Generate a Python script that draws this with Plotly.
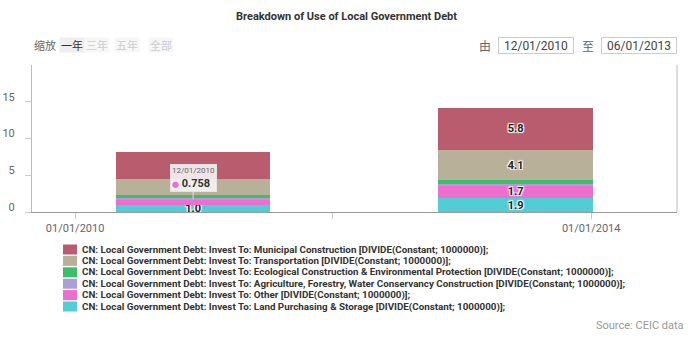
import plotly.graph_objects as go

# ---------------- data ----------------
dates = ["2010-12-01", "2013-06-01"]
series_names = [
    "CN: Local Government Debt: Invest To: Land Purchasing & Storage [DIVIDE(Constant; 1000000)];",
    "CN: Local Government Debt: Invest To: Other [DIVIDE(Constant; 1000000)];",
    "CN: Local Government Debt: Invest To: Agriculture, Forestry, Water Conservancy Construction [DIVIDE(Constant; 1000000)];",
    "CN: Local Government Debt: Invest To: Ecological Construction & Environmental Protection [DIVIDE(Constant; 1000000)];",
    "CN: Local Government Debt: Invest To: Transportation [DIVIDE(Constant; 1000000)];",
    "CN: Local Government Debt: Invest To: Municipal Construction [DIVIDE(Constant; 1000000)];",
]
land = [1.0, 1.9]
other = [0.758, 1.7]
agri = [0.15, 0.2]
eco = [0.35, 0.5]
transport = [2.3, 4.1]
municipal = [3.6, 5.8]
series_values = [land, other, agri, eco, transport, municipal]
# which segment labels are shown (chart hides some)
label_shown = [[True, True], [False, True], [False, False], [False, False], [False, True], [False, True]]
colors = ["#52CDD6", "#EE6ECF", "#AF9ED6", "#3DBE6B", "#B9B09A", "#B85C6E"]

x_tickvals = ["2010-01-01", "2012-01-01", "2014-01-01"]
x_ticktext = ["01/01/2010", "", "01/01/2014"]
y_tickvals = [0, 5, 10, 15]
title = "Breakdown of Use of Local Government Debt"
source = "Source: CEIC data"

# --------------- layout helpers -----------------
W, H = 693, 338
L, R, T, B = 32, 16, 65, 126
PW, PH = W - L - R, H - T - B


def px(x):
    return (x - L) / PW


def py(y):
    return (H - B - y) / PH


def fmt_date(d):
    y, m, dd = d.split("-")
    return f"{m}/{dd}/{y}"


SANS = "Roboto, Noto Sans CJK SC, sans-serif"
CJK = "Noto Sans CJK SC, Roboto, sans-serif"

bar_width_ms = 1.2 * 365.25 * 86400000

fig = go.Figure()
for name, vals, shown, col in zip(series_names, series_values, label_shown, colors):
    texts = [f"{v:.1f}" if s else "" for v, s in zip(vals, shown)]
    fig.add_trace(go.Bar(
        x=dates, y=vals, name=name, marker=dict(color=col, line=dict(width=0)),
        width=[bar_width_ms] * len(dates),
        text=texts, textposition="inside", insidetextanchor="middle", textangle=0,
        textfont=dict(family=SANS, size=11, color="#222", weight="bold",
                      shadow="1px 1px 1px #fff, -1px -1px 1px #fff, 1px -1px 1px #fff, -1px 1px 1px #fff"),
        cliponaxis=False, showlegend=False, hoverinfo="skip",
    ))

fig.update_layout(
    width=W, height=H, margin=dict(l=L, r=R, t=T, b=B),
    plot_bgcolor="white", paper_bgcolor="white", barmode="stack",
    uniformtext=dict(minsize=11, mode="show"),
    font=dict(family=SANS, color="#666"),
    xaxis=dict(type="date", range=["2009-09-01", "2014-09-01"], tickvals=x_tickvals,
               ticktext=x_ticktext, ticks="outside", ticklen=6, tickcolor="#ccc",
               showline=True, linecolor="#999", linewidth=1, showgrid=False, zeroline=False,
               automargin=False,
               tickfont=dict(size=11, color="#666", family=SANS)),
    yaxis=dict(range=[0, 20], tickvals=y_tickvals, ticks="outside", ticklen=6, tickcolor="#ccc",
               showline=True, linecolor="#bbb", linewidth=1, showgrid=False, zeroline=False,
               ticklabelshift=-5, ticklabelstandoff=8, automargin=False,
               tickfont=dict(size=11, color="#666", family=SANS)),
)

shapes = []
annotations = []


def ann(text, x, y, **kw):
    d = dict(text=text, xref="paper", yref="paper", x=px(x), y=py(y), showarrow=False,
             xanchor="center", yanchor="middle")
    d.update(kw)
    annotations.append(d)


# right border line
shapes.append(dict(type="line", xref="paper", yref="paper", x0=1, x1=1, y0=0, y1=1,
                   line=dict(color="#bbb", width=1)))

# title
ann(f"<b>{title}</b>", 346, 16, font=dict(family=SANS, size=11, color="#333"))

# zoom buttons
ann("缩放", 45, 45, font=dict(family=CJK, size=11, color="#666"))
btns = [("一年", 72, "#333", "#eeeeee"), ("三年", 97, "#cccccc", "#f7f7f7"),
        ("五年", 127, "#cccccc", "#f7f7f7"), ("全部", 161, "#cccccc", "#f7f7f7")]
for t, cx, fc, bg in btns:
    ann(t, cx, 45, bgcolor=bg, width=24, height=14, borderpad=0,
        font=dict(family=CJK, size=11, color=fc))

# range inputs
ann("由", 485, 45, font=dict(family=CJK, size=12, color="#666"))
ann("至", 588, 45, font=dict(family=CJK, size=12, color="#666"))
for d, cx in [(dates[0], 536), (dates[-1], 639)]:
    ann(fmt_date(d), cx, 45, width=74, height=15, borderpad=0,
        bordercolor="#ccc", borderwidth=1, bgcolor="white",
        font=dict(family=SANS, size=12, color="#444"))

# tooltip
annotations.append(dict(
    text=f"<span style='font-size:8px;color:#666'>{fmt_date(dates[0])}</span><br>"
         f"<span style='color:{colors[1]};font-size:7px'>●</span> <b>{other[0]:.3f}</b>",
    x=dates[0], y=land[0] + other[0], xref="x", yref="y",
    xanchor="center", yanchor="middle",
    showarrow=True, arrowhead=0, arrowwidth=1, arrowcolor="#ddd", ax=0, ay=-21,
    bgcolor="rgba(247,247,247,0.88)", bordercolor="#e3e3e3", borderwidth=1, borderpad=1,
    font=dict(family=SANS, size=11, color="#333"), align="left"))

# legend (custom, compact)
for i, (name, col) in enumerate(zip(series_names[::-1], colors[::-1])):
    yc = 249.5 + i * 11.4
    shapes.append(dict(type="rect", xref="paper", yref="paper", x0=px(63), x1=px(77),
                       y0=py(yc + 5), y1=py(yc - 5), fillcolor=col, line=dict(width=0)))
    ann(name, 81, yc, xanchor="left", borderpad=0,
        font=dict(family=SANS, size=9.8, color="#333", weight="bold"))

# source
ann(source, 686, 325, xanchor="right", font=dict(family=SANS, size=11, color="#999"))

fig.update_layout(shapes=shapes, annotations=annotations)
fig.write_html("out.html")
